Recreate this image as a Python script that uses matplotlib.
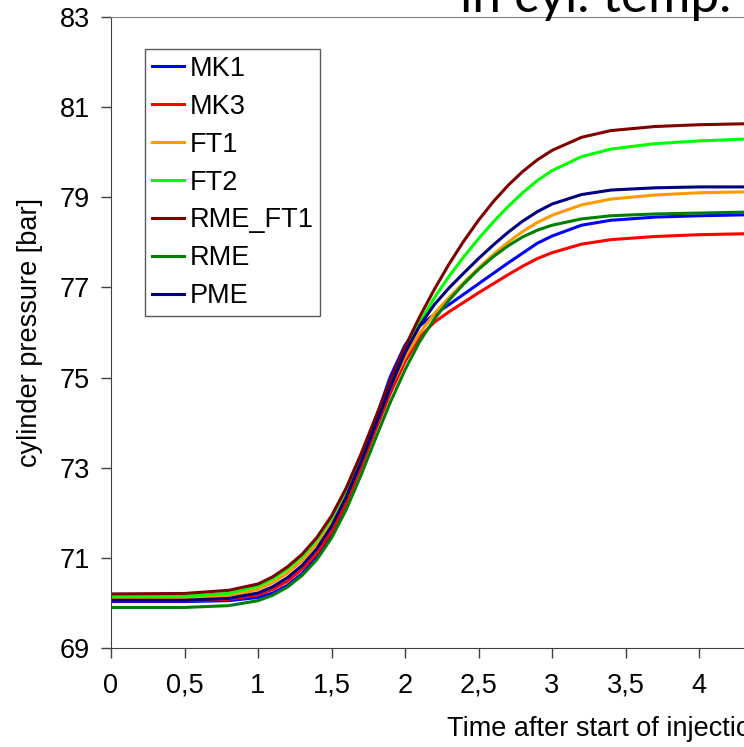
import matplotlib
matplotlib.use("Agg")
import matplotlib.pyplot as plt
from matplotlib.ticker import FuncFormatter, MultipleLocator

plt.rcParams['font.family'] = ['Liberation Sans', 'DejaVu Sans']

# Zeit nach Einspritzbeginn [ms] und Zylinderdruck [bar] je Kraftstoff
time_ms = [0, 0.5, 0.8, 1.0, 1.1, 1.2, 1.3, 1.4, 1.5, 1.6, 1.7, 1.8, 1.9, 2.0, 2.1,
           2.2, 2.3, 2.4, 2.5, 2.6, 2.7, 2.8, 2.9, 3.0, 3.2, 3.4, 3.7, 4.0, 4.3]

mk1 = [70.03, 70.03, 70.05, 70.12, 70.22, 70.39, 70.65, 71.02, 71.53, 72.22, 73.10, 74.08, 75.02, 75.72, 76.15,
       76.40, 76.62, 76.85, 77.08, 77.31, 77.54, 77.76, 77.98, 78.14, 78.38, 78.49, 78.56, 78.59, 78.61]
mk3 = [70.05, 70.05, 70.08, 70.18, 70.30, 70.48, 70.75, 71.10, 71.58, 72.22, 73.00, 73.84, 74.65, 75.35, 75.90,
       76.23, 76.46, 76.67, 76.88, 77.08, 77.28, 77.47, 77.64, 77.77, 77.96, 78.06, 78.13, 78.17, 78.19]
ft1 = [70.10, 70.10, 70.15, 70.30, 70.45, 70.66, 70.94, 71.31, 71.80, 72.43, 73.19, 74.00, 74.78, 75.45, 75.99,
       76.42, 76.78, 77.11, 77.43, 77.73, 78.00, 78.24, 78.44, 78.60, 78.83, 78.96, 79.05, 79.10, 79.12]
ft2 = [70.14, 70.15, 70.21, 70.37, 70.53, 70.75, 71.03, 71.40, 71.88, 72.50, 73.25, 74.05, 74.84, 75.58, 76.22,
       76.77, 77.25, 77.68, 78.08, 78.45, 78.79, 79.10, 79.37, 79.59, 79.90, 80.07, 80.19, 80.25, 80.29]
rme_ft1 = [70.20, 70.21, 70.28, 70.42, 70.58, 70.80, 71.08, 71.45, 71.93, 72.55, 73.30, 74.12, 74.93, 75.68, 76.35,
           76.96, 77.52, 78.03, 78.49, 78.90, 79.26, 79.57, 79.83, 80.04, 80.33, 80.48, 80.57, 80.61, 80.63]
rme = [69.90, 69.90, 69.94, 70.05, 70.17, 70.35, 70.61, 70.96, 71.44, 72.07, 72.83, 73.65, 74.45, 75.17, 75.80,
       76.30, 76.72, 77.08, 77.40, 77.68, 77.92, 78.12, 78.27, 78.38, 78.52, 78.59, 78.63, 78.65, 78.67]
pme = [70.06, 70.06, 70.10, 70.22, 70.36, 70.56, 70.83, 71.20, 71.70, 72.35, 73.12, 73.95, 74.78, 75.55, 76.15,
       76.62, 76.99, 77.32, 77.64, 77.94, 78.22, 78.47, 78.68, 78.85, 79.06, 79.16, 79.21, 79.23, 79.23]

series = [('MK1', mk1, '#0000ff'), ('MK3', mk3, '#ff0000'), ('FT1', ft1, '#ff9900'),
          ('FT2', ft2, '#00ff00'), ('RME_FT1', rme_ft1, '#800000'), ('RME', rme, '#008000'),
          ('PME', pme, '#000080')]

fig = plt.figure(figsize=(7.44, 7.47), dpi=100)
ax = fig.add_axes([111 / 744, 1 - 648 / 747, 633 / 744, 631 / 747])

for name, vals, col in series:
    ax.plot(time_ms, vals, color=col, lw=2.2, label=name, solid_joinstyle='round')

ax.set_xlim(0, 633 / 147)
ax.set_ylim(69, 83)
ax.set_yticks(range(69, 84, 2))
ax.xaxis.set_major_locator(MultipleLocator(0.5))
ax.xaxis.set_major_formatter(FuncFormatter(lambda v, p: f'{v:g}'.replace('.', ',')))
ax.tick_params(direction='out', length=7, width=1, labelsize=19.5, color='#404040')
ax.tick_params(axis='x', pad=11)
ax.tick_params(axis='y', pad=8)

ax.spines['right'].set_visible(False)
ax.spines['top'].set_color('#808080')
for s in ['left', 'bottom']:
    ax.spines[s].set_color('#404040')

ax.set_ylabel('cylinder pressure [bar]', fontsize=19.5, labelpad=12)
ax.set_xlabel('Time after start of injection [ms]', fontsize=19.5, ha='left')
ax.xaxis.set_label_coords((447 - 111) / 633, -0.107)

leg = ax.legend(loc='upper left', bbox_to_anchor=((145 - 111) / 633, (648 - 49) / 631),
                borderaxespad=0, fontsize=19.5, frameon=True, fancybox=False,
                handlelength=1.2, handletextpad=0.2, labelspacing=0.44, borderpad=0.25)
leg.get_frame().set_edgecolor('#303030')
leg.get_frame().set_linewidth(1)

fig.text(460 / 744, 1 - 12 / 747, 'in cyl. temp.', fontsize=37, va='baseline', ha='left',
         family=['Lato', 'DejaVu Sans'])

fig.savefig('out.png', dpi=100)
